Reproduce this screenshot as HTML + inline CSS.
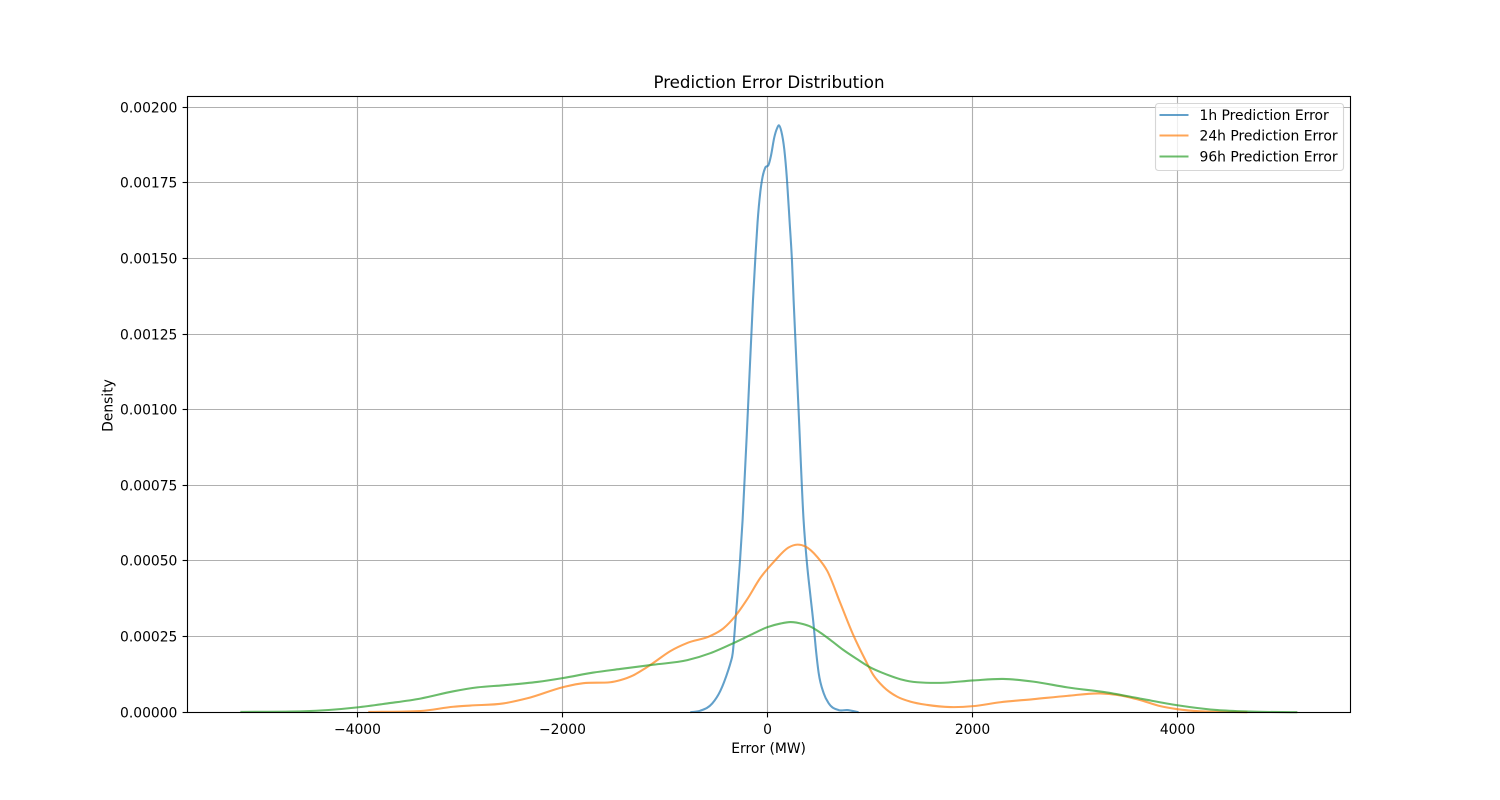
<!DOCTYPE html>
<html lang="en">
<head>
<meta charset="utf-8">
<title>Prediction Error Distribution</title>
<style>
html,body{margin:0;padding:0;background:#fff;}
svg{display:block;}
text{font-family:"DejaVu Sans","Liberation Sans",sans-serif;fill:#000;}
</style>
</head>
<body>
<svg id="chart" xmlns="http://www.w3.org/2000/svg" width="1500" height="800" viewBox="0 0 1500 800">
  <rect x="0" y="0" width="1500" height="800" fill="#fff"/>
  <g id="grid"></g>
  <g id="series"></g>
  <rect x="187.5" y="96.5" width="1163" height="616" fill="none" stroke="#000" stroke-width="1.11"/>
  <g id="ticks"></g>
  <text x="769" y="88" font-size="16.67" text-anchor="middle">Prediction Error Distribution</text>
  <text x="768.6" y="753" font-size="13.89" text-anchor="middle">Error (MW)</text>
  <text transform="translate(112.5,405.5) rotate(-90)" font-size="13.89" text-anchor="middle">Density</text>
  <g>
    <rect x="1155.5" y="103.5" width="188" height="67" rx="3" ry="3" fill="#fff" fill-opacity="0.8" stroke="#cccccc" stroke-opacity="0.8" stroke-width="1.11"/>
    <g>
      <line x1="1159.5" x2="1188.5" y1="115" y2="115" stroke="#1f77b4" stroke-opacity="0.7" stroke-width="2.08"/>
      <text x="1199.5" y="120" font-size="13.89">1h Prediction Error</text>
    </g>
    <g>
      <line x1="1159.5" x2="1188.5" y1="135.5" y2="135.5" stroke="#ff7f0e" stroke-opacity="0.7" stroke-width="2.08"/>
      <text x="1199.5" y="140.5" font-size="13.89">24h Prediction Error</text>
    </g>
    <g>
      <line x1="1159.5" x2="1188.5" y1="156.5" y2="156.5" stroke="#2ca02c" stroke-opacity="0.7" stroke-width="2.08"/>
      <text x="1199.5" y="161.5" font-size="13.89">96h Prediction Error</text>
    </g>
  </g>
</svg>
<script>
var xTickValues = [-4000, -2000, 0, 2000, 4000];
var xTickLabels = ["\u22124000", "\u22122000", "0", "2000", "4000"];
var yTickValues = [0, 0.00025, 0.0005, 0.00075, 0.001, 0.00125, 0.0015, 0.00175, 0.002];
var yTickLabels = ["0.00000", "0.00025", "0.00050", "0.00075", "0.00100", "0.00125", "0.00150", "0.00175", "0.00200"];

var error1h = [-751, -654, -537, -459, -381, -359, -337, -325, -310, -295, -266, -241, -185, -140, -117, -95, -68, -46, -20, 13, 36, 68, 95, 114, 137, 166, 192, 218, 241, 257, 305, 354, 387, 420, 452, 472, 501, 550, 598, 696, 780, 890];
var density1h = [0, 0.000005, 0.000029, 0.00007, 0.000139, 0.000163, 0.000196, 0.000239, 0.000305, 0.000368, 0.000502, 0.000635, 0.00103, 0.00136, 0.0015, 0.00162, 0.00172, 0.00177, 0.0018, 0.00181, 0.00184, 0.0019, 0.00193, 0.00194, 0.00192, 0.00186, 0.00176, 0.00162, 0.00149, 0.00136, 0.001, 0.000635, 0.000492, 0.000387, 0.000288, 0.000215, 0.00013, 0.000063, 0.00003, 0.000007, 0.000007, 0];

var error24h = [-3893, -3385, -3063, -2898, -2576, -2341, -1990, -1795, -1532, -1434, -1307, -1210, -1112, -946, -780, -556, -429, -312, -195, -68, 71, 205, 293, 371, 488, 585, 712, 839, 956, 1034, 1132, 1268, 1395, 1561, 1785, 2010, 2273, 2595, 2927, 3249, 3415, 3639, 3834, 4000, 4224, 4546, 4683];
var density24h = [0.000001, 0.000004, 0.000018, 0.000022, 0.000029, 0.000046, 0.000083, 0.000096, 0.000099, 0.000106, 0.000122, 0.000141, 0.000163, 0.000202, 0.000229, 0.000252, 0.000277, 0.000318, 0.000374, 0.000444, 0.0005, 0.000544, 0.000554, 0.000548, 0.000513, 0.000467, 0.000361, 0.000255, 0.000173, 0.000123, 0.000084, 0.000051, 0.000035, 0.000024, 0.000017, 0.00002, 0.000033, 0.000043, 0.000054, 0.000062, 0.000057, 0.00004, 0.00002, 0.00001, 0.000003, 0.000001, 0];

var error96h = [-5141, -4527, -4000, -3707, -3385, -3063, -2829, -2576, -2244, -1990, -1698, -1434, -1112, -780, -556, -332, -166, 0, 127, 224, 351, 420, 517, 615, 741, 878, 1005, 1132, 1298, 1463, 1688, 2010, 2302, 2595, 2927, 3317, 3639, 4000, 4390, 4712, 5171];
var density96h = [0.000001, 0.000003, 0.000016, 0.000029, 0.000045, 0.000069, 0.000082, 0.000089, 0.0001, 0.000113, 0.000131, 0.000143, 0.000157, 0.000172, 0.000195, 0.000228, 0.000255, 0.000281, 0.000293, 0.000298, 0.000291, 0.000283, 0.000263, 0.000239, 0.000206, 0.000175, 0.000148, 0.000129, 0.000109, 0.000099, 0.000097, 0.000105, 0.00011, 0.000101, 0.000082, 0.000065, 0.000045, 0.000023, 0.000007, 0.000002, 0];

var SVG_NS = "http://www.w3.org/2000/svg";
var gridGroup = document.getElementById("grid");
var seriesGroup = document.getElementById("series");
var ticksGroup = document.getElementById("ticks");

function xScale(v) { return 767.3 + v * 0.1025; }
function yScale(v) { return 712.2 - v * 302500; }
function snap(p) { return Math.floor(p) + 0.5; }

function make(tag, attrs, parent) {
  var el = document.createElementNS(SVG_NS, tag);
  for (var k in attrs) { el.setAttribute(k, attrs[k]); }
  parent.appendChild(el);
  return el;
}

function smoothPath(xs, ys) {
  var n = xs.length, i, px = [], py = [], h = [], s = [], t = [];
  for (i = 0; i < n; i++) { px.push(xScale(xs[i])); py.push(yScale(ys[i])); }
  for (i = 0; i < n - 1; i++) { h.push(px[i + 1] - px[i]); s.push((py[i + 1] - py[i]) / h[i]); }
  t.push(s[0]);
  for (i = 1; i < n - 1; i++) {
    var m = (s[i - 1] * h[i] + s[i] * h[i - 1]) / (h[i - 1] + h[i]);
    if (s[i - 1] * s[i] > 0) {
      var lim = 3 * Math.min(Math.abs(s[i - 1]), Math.abs(s[i]));
      if (Math.abs(m) > lim) { m = (m > 0 ? 1 : -1) * lim; }
    }
    t.push(m);
  }
  t.push(s[n - 2]);
  var d = "M" + px[0].toFixed(2) + " " + py[0].toFixed(2);
  for (i = 0; i < n - 1; i++) {
    var c = h[i] / 3;
    d += "C" + (px[i] + c).toFixed(2) + " " + (py[i] + t[i] * c).toFixed(2) + " " +
         (px[i + 1] - c).toFixed(2) + " " + (py[i + 1] - t[i + 1] * c).toFixed(2) + " " +
         px[i + 1].toFixed(2) + " " + py[i + 1].toFixed(2);
  }
  return d;
}

xTickValues.forEach(function (v, i) {
  var x = snap(xScale(v));
  var g = make("line", { x1: x, x2: x, y1: 96.5, y2: 712.5, stroke: "#b0b0b0", "stroke-width": 1.11 }, gridGroup);
  
  
  var t = make("line", { x1: x, x2: x, y1: 712.5, y2: 717.4, stroke: "#000", "stroke-width": 1.11 }, ticksGroup);
  
  
  var l = make("text", { x: xScale(v) + 0.2, y: 734, "font-size": 13.89, "text-anchor": "middle" }, ticksGroup);
  
  
  l.textContent = xTickLabels[i];
});

yTickValues.forEach(function (v, i) {
  var y = snap(yScale(v));
  var g = make("line", { x1: 187.5, x2: 1350.5, y1: y, y2: y, stroke: "#b0b0b0", "stroke-width": 1.11 }, gridGroup);
  
  
  var t = make("line", { x1: 182.6, x2: 187.5, y1: y, y2: y, stroke: "#000", "stroke-width": 1.11 }, ticksGroup);
  
  
  var l = make("text", { x: 177.4, y: y + 5, "font-size": 13.89, "text-anchor": "end" }, ticksGroup);
  
  
  l.textContent = yTickLabels[i];
});

var line1h = make("path", { d: smoothPath(error1h, density1h), fill: "none", stroke: "#1f77b4", "stroke-opacity": 0.7, "stroke-width": 2.08, "stroke-linejoin": "round" }, seriesGroup);



var line24h = make("path", { d: smoothPath(error24h, density24h), fill: "none", stroke: "#ff7f0e", "stroke-opacity": 0.7, "stroke-width": 2.08, "stroke-linejoin": "round" }, seriesGroup);



var line96h = make("path", { d: smoothPath(error96h, density96h), fill: "none", stroke: "#2ca02c", "stroke-opacity": 0.7, "stroke-width": 2.08, "stroke-linejoin": "round" }, seriesGroup);


</script>
</body>
</html>
